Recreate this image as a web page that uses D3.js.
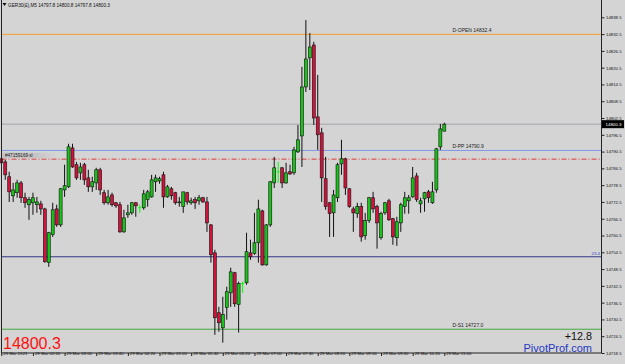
<!DOCTYPE html>
<html><head><meta charset="utf-8">
<script src="https://cdn.jsdelivr.net/npm/d3@7"></script>
<style>body{margin:0;background:#d4d4d4;} svg{display:block;font-family:"Liberation Sans",Arial,sans-serif;}</style>
</head><body><svg id="c" width="625" height="364"></svg>
<script>
// ---- data (M5 candles, GER30) ----
const opens = [14787.9,14786.8,14781.5,14774.7,14775.8,14779.3,14774.0,14771.5,14772.2,14771.5,14771.8,14770.0,14750.8,14760.8,14770.0,14764.3,14776.8,14777.9,14791.8,14785.8,14782.9,14785.8,14781.1,14777.9,14779.3,14784.0,14775.8,14772.2,14775.0,14772.2,14771.5,14761.8,14767.9,14768.6,14772.2,14770.4,14770.4,14773.3,14774.3,14779.7,14780.0,14782.2,14774.3,14777.2,14775.8,14772.2,14770.8,14775.8,14772.2,14773.3,14772.9,14774.0,14772.5,14764.3,14754.3,14732.9,14727.5,14734.7,14740.0,14747.2,14735.8,14743.3,14743.6,14754.3,14754.0,14757.9,14769.3,14750.0,14764.3,14779.3,14783.3,14784.7,14779.3,14783.3,14782.9,14790.4,14796.1,14813.6,14824.0,14828.6,14802.9,14797.2,14780.8,14772.2,14768.6,14774.0,14786.1,14787.9,14777.2,14770.0,14768.3,14770.8,14760.4,14765.8,14774.0,14770.8,14759.7,14768.6,14772.9,14766.5,14759.7,14765.0,14770.8,14772.9,14774.3,14781.8,14771.8,14773.6,14776.1,14772.2,14776.8,14792.2,14797.8];
const highs = [14788.3,14787.5,14783.3,14779.3,14780.4,14780.0,14775.8,14774.3,14775.8,14774.3,14772.9,14770.4,14761.8,14772.2,14771.5,14777.5,14785.8,14793.3,14793.3,14786.8,14786.5,14786.5,14784.0,14781.5,14784.7,14784.7,14776.8,14776.8,14775.8,14772.5,14772.5,14769.7,14771.5,14772.5,14772.5,14771.5,14776.8,14776.8,14782.2,14782.2,14781.5,14783.3,14778.6,14777.9,14776.1,14774.3,14776.1,14776.1,14774.0,14774.3,14775.0,14774.3,14774.3,14764.6,14755.4,14735.0,14738.6,14742.2,14749.0,14747.5,14744.0,14744.0,14761.5,14759.0,14768.6,14773.3,14769.7,14764.6,14780.0,14788.6,14786.8,14785.0,14786.5,14785.8,14792.2,14800.0,14820.8,14837.5,14832.9,14829.7,14817.9,14799.0,14788.6,14772.5,14776.8,14786.5,14794.7,14788.3,14777.5,14770.8,14772.2,14772.2,14768.6,14774.3,14776.1,14771.5,14769.0,14772.5,14773.6,14766.8,14767.2,14772.2,14776.1,14775.0,14785.0,14782.9,14774.0,14776.1,14776.8,14779.7,14791.8,14800.4,14800.8];
const lows = [14786.1,14780.4,14772.5,14772.5,14774.0,14772.2,14770.4,14766.1,14767.9,14768.6,14767.9,14750.8,14749.3,14760.0,14763.6,14763.6,14774.3,14777.5,14784.7,14780.4,14780.4,14778.6,14776.1,14776.1,14776.8,14775.0,14771.5,14771.5,14770.8,14770.4,14761.5,14761.5,14766.8,14767.9,14767.2,14768.6,14769.7,14770.8,14774.0,14776.1,14779.0,14770.4,14774.0,14773.3,14771.5,14770.8,14768.6,14771.5,14771.5,14770.0,14771.5,14772.2,14761.8,14750.8,14725.0,14726.1,14722.2,14730.4,14735.0,14735.0,14725.8,14740.0,14742.9,14751.8,14753.6,14750.8,14749.7,14749.7,14763.6,14777.5,14779.3,14777.5,14779.0,14782.2,14782.2,14790.0,14785.0,14811.8,14812.5,14800.0,14791.1,14772.5,14769.7,14760.0,14760.0,14772.5,14782.2,14775.0,14770.4,14761.8,14766.8,14758.3,14759.0,14765.0,14768.6,14755.8,14759.0,14767.9,14765.8,14757.2,14756.8,14761.8,14768.3,14768.3,14774.0,14772.5,14768.6,14769.0,14772.2,14771.8,14775.8,14791.1,14797.8];
const closes = [14786.5,14782.2,14776.1,14776.8,14779.3,14774.0,14772.2,14773.3,14774.0,14772.5,14770.0,14751.1,14761.5,14769.7,14764.3,14777.2,14778.3,14792.2,14785.0,14781.1,14785.0,14780.4,14777.9,14779.7,14784.0,14776.8,14772.2,14774.3,14771.5,14771.1,14761.8,14766.8,14768.6,14772.2,14771.1,14770.4,14775.4,14776.1,14780.4,14781.1,14780.8,14774.3,14777.9,14774.7,14772.2,14772.5,14776.1,14772.5,14772.9,14772.2,14774.0,14772.5,14765.0,14753.6,14731.1,14729.3,14732.2,14740.4,14747.5,14736.1,14743.3,14743.3,14754.7,14752.9,14757.9,14770.0,14750.0,14764.3,14779.7,14784.7,14783.3,14779.3,14782.9,14782.5,14791.1,14794.7,14813.6,14823.6,14827.9,14802.5,14796.5,14781.1,14770.8,14768.3,14775.0,14785.8,14787.9,14777.5,14770.8,14768.6,14770.8,14760.0,14765.8,14774.0,14770.0,14765.0,14768.3,14772.2,14766.1,14760.0,14765.4,14771.5,14774.0,14774.0,14781.1,14773.3,14772.9,14775.8,14774.0,14776.1,14791.5,14798.6,14800.3];
const timeLabels = ["29 Mar 2021","29 Mar 02:20","29 Mar 03:00","29 Mar 03:40","29 Mar 04:20","29 Mar 05:00","29 Mar 05:40","29 Mar 06:20","29 Mar 07:00","29 Mar 07:40","29 Mar 08:20","29 Mar 09:00","29 Mar 09:40","29 Mar 10:20","29 Mar 11:00"];
const timeLabelBars = [0,8,16,24,32,40,48,56,64,72,80,88,96,104,112];
const priceTicks = [14838.5,14832.5,14826.5,14820.5,14814.5,14808.5,14802.5,14796.5,14790.5,14784.5,14778.5,14772.5,14766.5,14760.5,14754.5,14748.5,14742.5,14736.5,14730.5,14724.5,14718.5];
const levelNames = ["D-OPEN","D-PP","D-S1"];
const levelValues = [14832.4,14790.9,14727.0];
const currentPrice = 14800.3;
const orderLevel = 14787.8;
const orderLabel = "#47159169 sl";
const distLevel = 14752.9;
const distLabel = "23.4";
const headerText = "GER30(£),M5  14797.8 14800.8 14797.8 14800.3";
const changeText = "+12.8";

// ---- styles ----
const levelColors = ["#f0a030","#8098e8","#40a840"];
const bullColor = "#17c417", bearColor = "#d3123c", dojiColor = "#00ff00";

const W = 625, H = 364;
const svg = d3.select("#c");
const x = d3.scaleLinear().domain([0,112]).range([1.3,444.3]);
const y = d3.scaleLinear().domain([14718.5,14838.5]).range([353,17.3]);
const plotL = 1.5, plotR = 601.5, plotB = 353;

svg.append("rect").attr("width",W).attr("height",H).attr("fill","#d4d4d4");

// horizontal levels
levelValues.forEach((v,i)=>{
  svg.append("line").attr("x1",plotL).attr("x2",plotR).attr("y1",y(v)).attr("y2",y(v))
    .attr("stroke",levelColors[i]).attr("stroke-width",1);
  svg.append("text").attr("x",452.5).attr("y",y(v)-2).attr("font-size",5).attr("fill","#222")
    .text(levelNames[i]+" "+v.toFixed(1));
});
// current price line
svg.append("line").attr("x1",plotL).attr("x2",plotR).attr("y1",y(currentPrice)).attr("y2",y(currentPrice))
  .attr("stroke","#a4a4ac").attr("stroke-width",1);
// order line (dash-dot)
svg.append("line").attr("x1",plotL).attr("x2",plotR).attr("y1",y(orderLevel)).attr("y2",y(orderLevel))
  .attr("stroke","#e03838").attr("stroke-width",1).attr("stroke-dasharray","5,2,1,2");
const grad = svg.append("defs").append("linearGradient").attr("id","g1");
grad.append("stop").attr("offset","0").attr("stop-color","#c4c4c4");
grad.append("stop").attr("offset","0.6").attr("stop-color","#c4c4c4");
grad.append("stop").attr("offset","1").attr("stop-color","#d4d4d4");
svg.append("rect").attr("x",2).attr("y",y(orderLevel)-6.5).attr("width",54).attr("height",5.5).attr("fill","url(#g1)");
svg.append("text").attr("x",5).attr("y",y(orderLevel)-2).attr("font-size",4.6).attr("fill","#222").text(orderLabel);
// distance line
svg.append("line").attr("x1",plotL).attr("x2",plotR).attr("y1",y(distLevel)).attr("y2",y(distLevel))
  .attr("stroke","#34348a").attr("stroke-width",1);
svg.append("text").attr("x",600).attr("y",y(distLevel)-2).attr("text-anchor","end").attr("font-size",4.4).attr("fill","#3040c8").text(distLabel);

// candles
const idx = d3.range(opens.length);
const g = svg.append("g");
g.selectAll("line.w").data(idx).join("line").attr("class","w")
  .attr("x1",i=>x(i)).attr("x2",i=>x(i)).attr("y1",i=>y(highs[i])).attr("y2",i=>y(lows[i]))
  .attr("stroke",i=>opens[i]===closes[i]?dojiColor:"#111").attr("stroke-width",1);
g.selectAll("rect.b").data(idx.filter(i=>opens[i]!==closes[i])).join("rect").attr("class","b")
  .attr("x",i=>x(i)-1.5).attr("width",3)
  .attr("y",i=>y(Math.max(opens[i],closes[i])))
  .attr("height",i=>Math.max(0.8,Math.abs(y(opens[i])-y(closes[i]))))
  .attr("fill",i=>closes[i]>opens[i]?bullColor:bearColor)
  .attr("stroke","#111").attr("stroke-width",0.6);
g.selectAll("line.d").data(idx.filter(i=>opens[i]===closes[i])).join("line").attr("class","d")
  .attr("x1",i=>x(i)-1.5).attr("x2",i=>x(i)+1.5).attr("y1",i=>y(opens[i])).attr("y2",i=>y(opens[i]))
  .attr("stroke",dojiColor).attr("stroke-width",1);

// plot frame
svg.append("line").attr("x1",plotL).attr("x2",plotL).attr("y1",0).attr("y2",plotB).attr("stroke","#222");
svg.append("line").attr("x1",plotR).attr("x2",plotR).attr("y1",0).attr("y2",plotB).attr("stroke","#222");
svg.append("line").attr("x1",plotL).attr("x2",plotR).attr("y1",plotB).attr("y2",plotB).attr("stroke","#222");

// right axis
const ax = svg.append("g").attr("transform",`translate(${plotR},0)`)
  .call(d3.axisRight(y).tickValues(priceTicks).tickSize(3).tickPadding(1.5).tickFormat(d3.format(".1f")));
ax.select(".domain").remove();
ax.selectAll("text").attr("font-size",4.3).attr("fill","#111").attr("font-family","Liberation Sans, Arial");
ax.selectAll("line").attr("stroke","#222");
// current price box
svg.append("rect").attr("x",plotR+0.5).attr("y",y(currentPrice)-4).attr("width",22).attr("height",8).attr("fill","#000");
svg.append("text").attr("x",plotR+4).attr("y",y(currentPrice)+1.6).attr("font-size",4.4).attr("fill","#fff").text(currentPrice.toFixed(1));

// bottom axis
const bx = svg.append("g").attr("transform",`translate(0,${plotB})`)
  .call(d3.axisBottom(x).tickValues(timeLabelBars).tickSize(3).tickFormat((d,i)=>timeLabels[i]));
bx.select(".domain").remove();
bx.selectAll("text").attr("font-size",4.3).attr("fill","#111").attr("text-anchor","start")
  .attr("font-family","Liberation Sans, Arial").attr("dx",1.5).attr("dy",-0.6).attr("y",3);
bx.selectAll("line").attr("stroke","#222");

// header
svg.append("path").attr("d","M2.5,3 L6.5,3 L4.5,6 Z").attr("fill","#111");
svg.append("text").attr("x",8).attr("y",6.8).attr("font-size",4.7).attr("fill","#111").text(headerText);

// overlay texts
svg.append("text").attr("x",3).attr("y",348.5).attr("font-size",16).attr("fill","#ff1010").text(currentPrice.toFixed(1));
svg.append("text").attr("x",592).attr("y",340).attr("text-anchor","end").attr("font-size",10.8).attr("fill","#111").text(changeText);
svg.append("text").attr("x",592).attr("y",351.5).attr("text-anchor","end").attr("font-size",11).attr("fill","#2438c4").text("PivotProf.com");
</script></body></html>
